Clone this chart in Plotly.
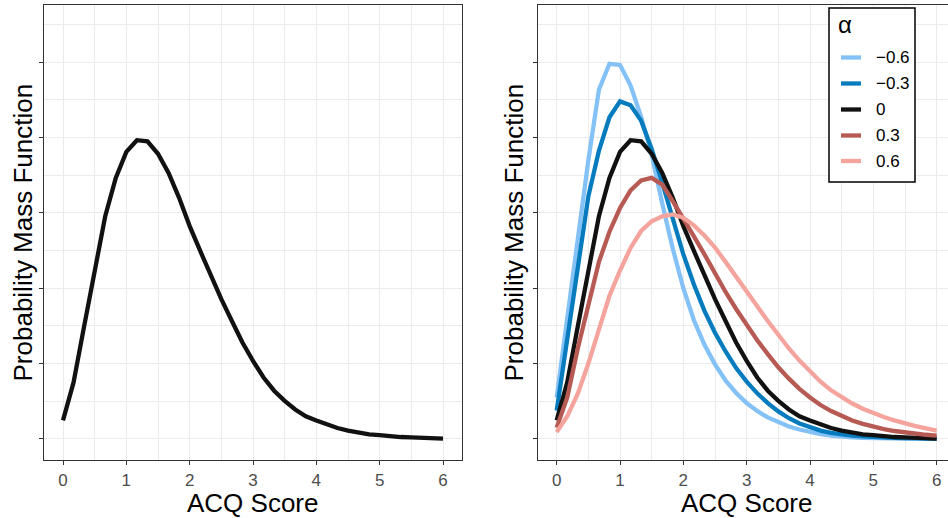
import plotly.graph_objects as go

# ---------------- data ----------------
acq_score = [0.0, 0.1667, 0.3333, 0.5, 0.6667, 0.8333, 1.0, 1.1667, 1.3333, 1.5,
             1.6667, 1.8333, 2.0, 2.1667, 2.3333, 2.5, 2.6667, 2.8333, 3.0, 3.1667,
             3.3333, 3.5, 3.6667, 3.8333, 4.0, 4.1667, 4.3333, 4.5, 4.6667, 4.8333,
             5.0, 5.1667, 5.3333, 5.5, 5.6667, 5.8333, 6.0]

pmf_alpha_m06 = [0.0110, 0.0320, 0.0530, 0.0740, 0.0927, 0.0996, 0.0993, 0.0938, 0.0855, 0.0755,
                 0.0625, 0.0505, 0.0400, 0.0315, 0.0250, 0.0198, 0.0155, 0.0122, 0.0095, 0.0074,
                 0.0057, 0.0044, 0.0033, 0.0025, 0.0018, 0.0013, 0.0009, 0.0006, 0.0004, 0.0003,
                 0.0002, 0.0002, 0.0001, 0.0001, 0.0001, 0.0000, 0.0000]

pmf_alpha_m03 = [0.0075, 0.0265, 0.0459, 0.0644, 0.0765, 0.0854, 0.0896, 0.0886, 0.0845, 0.0770,
                 0.0680, 0.0580, 0.0490, 0.0410, 0.0340, 0.0282, 0.0232, 0.0188, 0.0152, 0.0121,
                 0.0095, 0.0073, 0.0055, 0.0041, 0.0030, 0.0022, 0.0016, 0.0012, 0.0009, 0.0007,
                 0.0005, 0.0004, 0.0003, 0.0002, 0.0002, 0.0001, 0.0001]

pmf_alpha_0 = [0.0049, 0.0150, 0.0299, 0.0450, 0.0591, 0.0693, 0.0762, 0.0793, 0.0790, 0.0757,
               0.0706, 0.0640, 0.0565, 0.0499, 0.0432, 0.0371, 0.0313, 0.0256, 0.0207, 0.0163,
               0.0128, 0.0101, 0.0078, 0.0060, 0.0049, 0.0038, 0.0029, 0.0022, 0.0017, 0.0012,
               0.0010, 0.0007, 0.0005, 0.0004, 0.0003, 0.0002, 0.0001]

pmf_alpha_p03 = [0.0030, 0.0110, 0.0240, 0.0360, 0.0470, 0.0550, 0.0613, 0.0660, 0.0686, 0.0693,
                 0.0675, 0.0631, 0.0587, 0.0538, 0.0490, 0.0438, 0.0390, 0.0345, 0.0302, 0.0262,
                 0.0225, 0.0190, 0.0160, 0.0133, 0.0110, 0.0090, 0.0074, 0.0060, 0.0049, 0.0040,
                 0.0032, 0.0026, 0.0021, 0.0017, 0.0014, 0.0011, 0.0009]

pmf_alpha_p06 = [0.0018, 0.0060, 0.0120, 0.0200, 0.0290, 0.0380, 0.0447, 0.0507, 0.0552, 0.0578,
                 0.0591, 0.0596, 0.0587, 0.0567, 0.0540, 0.0508, 0.0470, 0.0432, 0.0392, 0.0352,
                 0.0313, 0.0275, 0.0240, 0.0208, 0.0178, 0.0152, 0.0129, 0.0111, 0.0094, 0.0080,
                 0.0068, 0.0058, 0.0049, 0.0041, 0.0034, 0.0028, 0.0022]

alpha_labels = ["\u22120.6", "\u22120.3", "0", "0.3", "0.6"]
alpha_series = [pmf_alpha_m06, pmf_alpha_m03, pmf_alpha_0, pmf_alpha_p03, pmf_alpha_p06]
alpha_colors = ["#84C1F6", "#067CBE", "#111111", "#B75A54", "#F5A49D"]

x_ticks = [0, 1, 2, 3, 4, 5, 6]
x_title = "ACQ Score"
y_title = "Probability Mass Function"
legend_title = "\u03b1"

# ---------------- layout geometry ----------------
W, H = 948, 518
ML, MR, MT, MB = 44, 0, 5, 58
PW = W - ML - MR
PH = H - MT - MB


def fx(p):
    return (p - ML) / PW


def fy(p):
    return (H - MB - p) / PH


FONT = "Liberation Sans, Arial, sans-serif"
GRID = "#EBEBEB"
BORDER = "#333333"
LW = 4.3

fig = go.Figure()

# left panel: alpha = 0 only
fig.add_trace(go.Scatter(x=acq_score, y=pmf_alpha_0, mode="lines",
                         line=dict(color="#111111", width=LW),
                         xaxis="x", yaxis="y", showlegend=False, hoverinfo="skip"))

# right panel: all alphas
for lab, ser, col in zip(alpha_labels, alpha_series, alpha_colors):
    fig.add_trace(go.Scatter(x=acq_score, y=ser, mode="lines", name=lab,
                             line=dict(color=col, width=LW),
                             xaxis="x2", yaxis="y2", showlegend=False, hoverinfo="skip"))

xaxis_common = dict(
    tickmode="array", tickvals=x_ticks, ticktext=[str(t) for t in x_ticks],
    ticks="outside", ticklen=4, tickwidth=1.1, tickcolor=BORDER,
    tickfont=dict(family=FONT, size=17, color="#4D4D4D"),
    showgrid=True, gridcolor=GRID, gridwidth=1.2,
    minor=dict(dtick=0.5, tick0=0, showgrid=True, gridcolor=GRID, gridwidth=0.6, ticks=""),
    zeroline=False, showline=True, linecolor=BORDER, linewidth=1.2, mirror=True,
    fixedrange=True,
)
yaxis_common = dict(
    range=[-0.0056, 0.1152], tick0=0, dtick=0.02,
    ticks="outside", ticklen=4, tickwidth=1.1, tickcolor=BORDER,
    showticklabels=False,
    showgrid=True, gridcolor=GRID, gridwidth=1.2,
    minor=dict(dtick=0.01, tick0=0.01, showgrid=True, gridcolor=GRID, gridwidth=0.6, ticks=""),
    zeroline=False, showline=True, linecolor=BORDER, linewidth=1.2,
    fixedrange=True,
)

fig.update_layout(
    width=W, height=H,
    margin=dict(l=ML, r=MR, t=MT, b=MB, pad=0),
    paper_bgcolor="white", plot_bgcolor="white",
    font=dict(family=FONT, color="black"),
    xaxis=dict(domain=[0, fx(462)], range=[-0.3, 6.3], anchor="y", **xaxis_common),
    yaxis=dict(domain=[0, 1], anchor="x", mirror=True, **yaxis_common),
    xaxis2=dict(domain=[fx(538), 1], range=[-0.295, (948 - 556.7) / 63.33], anchor="y2",
                **xaxis_common),
    yaxis2=dict(domain=[0, 1], anchor="x2", mirror=False, **yaxis_common),
)

annotations = []
# axis titles
for cx in (253, 747):
    annotations.append(dict(text=x_title, x=fx(cx), y=fy(503), xref="paper", yref="paper",
                            xanchor="center", yanchor="middle", showarrow=False,
                            font=dict(family=FONT, size=26, color="black")))
for cx in (22, 513):
    annotations.append(dict(text=y_title, x=fx(cx), y=fy(232.5), xref="paper", yref="paper",
                            xanchor="center", yanchor="middle", showarrow=False, textangle=-90,
                            font=dict(family=FONT, size=26, color="black")))

# legend (drawn manually to match ggplot key layout)
shapes = [dict(type="rect", xref="paper", yref="paper",
               x0=fx(829), x1=fx(915), y0=fy(182), y1=fy(8),
               line=dict(color="black", width=1.5), fillcolor="white", layer="above")]
annotations.append(dict(text=legend_title, x=fx(836), y=fy(25), xref="paper", yref="paper",
                        xanchor="left", yanchor="middle", showarrow=False,
                        font=dict(family=FONT, size=24, color="black")))
item_y = [57.5, 83.5, 109.5, 135.5, 161]
for lab, col, iy in zip(alpha_labels, alpha_colors, item_y):
    shapes.append(dict(type="line", xref="paper", yref="paper",
                       x0=fx(841), x1=fx(861), y0=fy(iy), y1=fy(iy),
                       line=dict(color=col, width=LW), layer="above"))
    annotations.append(dict(text=lab, x=fx(874), y=fy(iy), xref="paper", yref="paper",
                            xanchor="left", yanchor="middle", showarrow=False,
                            font=dict(family=FONT, size=17, color="black")))

fig.update_layout(annotations=annotations, shapes=shapes)

fig.write_html(
    "out.html",
    config={"displayModeBar": False},
    post_script="document.body.style.margin='0';document.body.style.overflow='hidden';",
)
